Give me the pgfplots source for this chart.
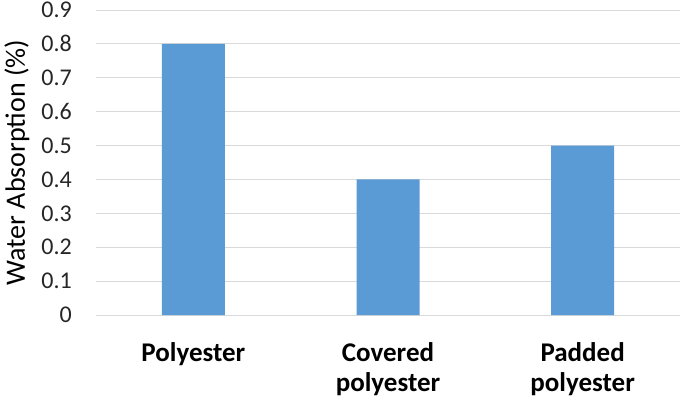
\documentclass[border=0pt]{standalone}
\usepackage{pgfplots}
\pgfplotsset{compat=1.18}
\usepackage{fontspec}
\setmainfont{Carlito}
\definecolor{barblue}{HTML}{5B9BD5}
\definecolor{gridgray}{HTML}{D9D9D9}
\begin{document}
\begin{tikzpicture}
\begin{axis}[
    scale only axis,
    width=584pt, height=305pt,
    xmin=-0.5, xmax=2.5,
    ymin=0, ymax=0.9,
    ytick={0,0.1,...,0.9},
    /pgf/number format/assume math mode=true,
    yticklabel style={font=\fontsize{24}{28}\selectfont, text=black!85, inner sep=0pt,
        /pgf/number format/fixed, /pgf/number format/precision=1, xshift=-24pt},
    xtick={0,1,2},
    xticklabels={Polyester, Covered\\polyester, Padded\\polyester},
    xticklabel style={font=\fontsize{27}{30}\selectfont\bfseries, align=center,
        inner sep=0pt, yshift=-23pt},
    xtick style={draw=none},
    ytick style={draw=none},
    ylabel={Water Absorption (\%)},
    ylabel style={font=\fontsize{28}{32}\selectfont, at={(rel axis cs:0,0.5)},
        anchor=center, yshift=79pt},
    axis line style={draw=none},
    ymajorgrids,
    grid style={gridgray, line width=1pt},
    ybar,
    bar width=63pt,
]
\addplot[fill=barblue, draw=none] coordinates {(0,0.8) (1,0.4) (2,0.5)};
\end{axis}
\pgfresetboundingbox
\path[use as bounding box] ([shift={(-96pt,-86pt)}]current axis.south west)
    rectangle ([shift={(5pt,10pt)}]current axis.north east);
\end{tikzpicture}
\end{document}
